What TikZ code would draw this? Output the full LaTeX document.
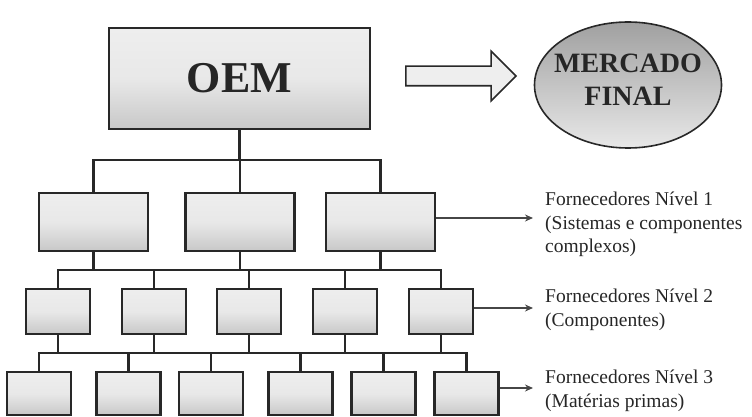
\documentclass[tikz,border=0pt]{standalone}
\usepackage{fontspec}
\setmainfont{Liberation Serif}
\usetikzlibrary{arrows.meta,shapes.geometric,shapes.arrows}
\definecolor{edge}{RGB}{40,40,40}
\definecolor{boxtop}{RGB}{238,238,238}
\definecolor{boxbot}{RGB}{200,200,200}
\definecolor{elltop}{RGB}{160,160,160}
\definecolor{ellbot}{RGB}{232,232,232}
\definecolor{thin}{RGB}{70,70,70}
\tikzset{
  gbox/.style={draw=edge, line width=2.4pt, rectangle, inner sep=0pt,
     top color=boxtop, bottom color=boxbot, middle color=boxtop!85!boxbot},
  l1box/.style={gbox, minimum width=109pt, minimum height=58pt},
  l2box/.style={gbox, minimum width=64pt, minimum height=45pt},
  l3box/.style={gbox, minimum width=64pt, minimum height=43pt},
  link/.style={draw=edge, line width=2.4pt},
  tolabel/.style={draw=thin, line width=1.3pt, -{Stealth[length=8pt,width=7pt]}},
  lvltext/.style={anchor=north west, align=left, inner sep=0pt,
     font=\fontsize{19.5}{23.5}\selectfont, text=black!85}
}
\begin{document}
\begin{tikzpicture}[x=1pt,y=-1pt]
\useasboundingbox (0,0) rectangle (752,417);
% top
\node[gbox, minimum width=261pt, minimum height=101pt,
      font=\fontsize{44}{48}\selectfont\bfseries, text=black!85] (oem) at (239.5,78.5) {OEM};
\node[single arrow, draw=edge, line width=1.6pt, fill=boxtop,
      inner xsep=0pt, inner ysep=9pt, minimum height=110pt,
      single arrow head extend=15pt, single arrow head indent=0pt] (flow) at (456,76) {};
\node[ellipse, draw=edge, line width=1.6pt, top color=elltop, bottom color=ellbot,
      minimum width=187pt, minimum height=126pt, inner sep=0pt] (mkt) at (628,85) {};
\node[align=center, inner sep=0pt, font=\fontsize{28}{33}\selectfont\bfseries,
      text=black!85] (mkttext) at (628,79.5) {MERCADO\\FINAL};
% level 1
\node[l1box] (b11) at (93.5,222) {};
\node[l1box] (b12) at (240,222) {};
\node[l1box] (b13) at (380.5,222) {};
% level 2
\node[l2box] (b21) at (58,311.5) {};
\node[l2box] (b22) at (154,311.5) {};
\node[l2box] (b23) at (249,311.5) {};
\node[l2box] (b24) at (345,311.5) {};
\node[l2box] (b25) at (441,311.5) {};
% level 3
\node[l3box] (b31) at (39,393.5) {};
\node[l3box] (b32) at (128.5,393.5) {};
\node[l3box] (b33) at (211,393.5) {};
\node[l3box] (b34) at (300.5,393.5) {};
\node[l3box] (b35) at (383.5,393.5) {};
\node[l3box] (b36) at (466.5,393.5) {};
% bus junctions
\coordinate (j1) at (240,160);
\coordinate (j2) at (249,270);
\coordinate (j3) at (211,353);
% OEM -> level 1
\draw[link] (oem.south) -- (oem.south |- j1);
\draw[link] (b11.north) |- (j1) -| (b13.north);
\draw[link] (j1) -- (b12.north);
% level 1 -> level 2
\draw[link] (b11.south) -- (b11.south |- j2);
\draw[link] (b12.south) -- (b12.south |- j2);
\draw[link] (b13.south) -- (b13.south |- j2);
\draw[link] (b21.north) |- (j2) -| (b25.north);
\draw[link] (b22.north) -- (b22.north |- j2);
\draw[link] (b23.north) -- (b23.north |- j2);
\draw[link] (b24.north) -- (b24.north |- j2);
% level 2 -> level 3
\draw[link] (b21.south) -- (b21.south |- j3);
\draw[link] (b22.south) -- (b22.south |- j3);
\draw[link] (b23.south) -- (b23.south |- j3);
\draw[link] (b24.south) -- (b24.south |- j3);
\draw[link] (b25.south) -- (b25.south |- j3);
\draw[link] (b31.north) |- (j3) -| (b36.north);
\draw[link] (b32.north) -- (b32.north |- j3);
\draw[link] (b33.north) -- (b33.north |- j3);
\draw[link] (b34.north) -- (b34.north |- j3);
\draw[link] (b35.north) -- (b35.north |- j3);
% labels
\coordinate (t1) at (533,218);
\coordinate (t2) at (533,308);
\coordinate (t3) at (533,388);
\draw[tolabel] (b13.east |- t1) -- (t1);
\draw[tolabel] (b25.east |- t2) -- (t2);
\draw[tolabel] (b36.east |- t3) -- (t3);
\node[lvltext] (lab1) at (545,192) {Fornecedores Nível 1\\(Sistemas e componentes\\complexos)};
\node[lvltext] (lab2) at (545,289) {Fornecedores Nível 2\\(Componentes)};
\node[lvltext] (lab3) at (545,370) {Fornecedores Nível 3\\(Matérias primas)};
\end{tikzpicture}
\end{document}
